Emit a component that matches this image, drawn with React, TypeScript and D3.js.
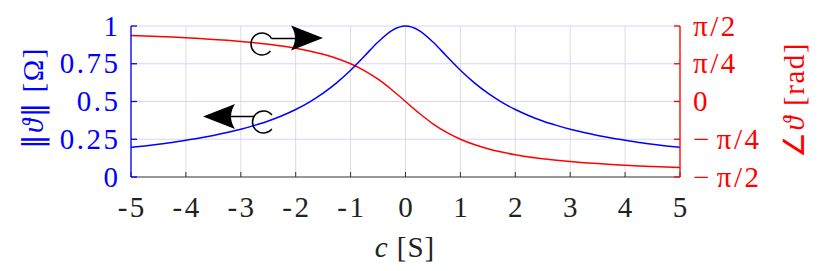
import React, { useRef, useEffect } from "react";
import * as d3 from "d3";

// values (c in S)
const cValues = [
	-5, -4.75, -4.5, -4.25, -4, -3.75, -3.5, -3.25, -3, -2.75, -2.5, -2.25, -2, -1.75, -1.5, -1.25, -1, -0.75, -0.5,
	-0.25, 0, 0.25, 0.5, 0.75, 1, 1.25, 1.5, 1.75, 2, 2.25, 2.5, 2.75, 3, 3.25, 3.5, 3.75, 4, 4.25, 4.5, 4.75, 5,
];
const magnitude = [
	0.196, 0.206, 0.217, 0.229, 0.243, 0.258, 0.275, 0.294, 0.316, 0.342, 0.371, 0.406, 0.447, 0.496, 0.555, 0.625,
	0.707, 0.8, 0.894, 0.97, 1, 0.97, 0.894, 0.8, 0.707, 0.625, 0.555, 0.496, 0.447, 0.406, 0.371, 0.342, 0.316,
	0.294, 0.275, 0.258, 0.243, 0.229, 0.217, 0.206, 0.196,
];
const phase = [
	1.373, 1.363, 1.352, 1.34, 1.326, 1.31, 1.292, 1.272, 1.249, 1.222, 1.19, 1.153, 1.107, 1.052, 0.983, 0.896,
	0.785, 0.644, 0.464, 0.245, 0, -0.245, -0.464, -0.644, -0.785, -0.896, -0.983, -1.052, -1.107, -1.153, -1.19,
	-1.222, -1.249, -1.272, -1.292, -1.31, -1.326, -1.34, -1.352, -1.363, -1.373,
];

const xTicks = [-5, -4, -3, -2, -1, 0, 1, 2, 3, 4, 5];
const xTickLabels = ["-5", "-4", "-3", "-2", "-1", "0", "1", "2", "3", "4", "5"];
const leftTicks = [0, 0.25, 0.5, 0.75, 1];
const leftTickLabels = ["0", "0.25", "0.5", "0.75", "1"];
const rightTicks = [-Math.PI / 2, -Math.PI / 4, 0, Math.PI / 4, Math.PI / 2];
const rightTickLabels = ["\u2212\u200a\u03c0/2", "\u2212\u200a\u03c0/4", "0", "\u03c0/4", "\u03c0/2"];

const FONT = "Liberation Serif";
const FS = 29;
const LS = 2.5;

const drawChart = (svgEl) => {
	const width = 830,
		height = 271,
		left = 131,
		right = 680,
		top = 26,
		bottom = 177;

	const svg = d3.select(svgEl);
	svg.selectAll("*").remove();
	svg.attr("width", width).attr("height", height);

	const x = d3.scaleLinear().domain([-5, 5]).range([left, right]);
	const yL = d3.scaleLinear().domain([0, 1]).range([bottom, top]);
	const yR = d3.scaleLinear().domain([-Math.PI / 2, Math.PI / 2]).range([bottom, top]);

	const label = (sel, ls = LS) =>
		sel.style("font-family", FONT).style("font-size", FS + "px").style("letter-spacing", ls + "px");

	// grid
	svg
		.append("g")
		.selectAll("line")
		.data(xTicks)
		.enter()
		.append("line")
		.attr("x1", (d) => x(d))
		.attr("x2", (d) => x(d))
		.attr("y1", top)
		.attr("y2", bottom)
		.attr("stroke", "#dcdcdc")
		.attr("stroke-width", 1);
	svg
		.append("g")
		.selectAll("line")
		.data(leftTicks.slice(1))
		.enter()
		.append("line")
		.attr("x1", left)
		.attr("x2", right)
		.attr("y1", (d) => yL(d))
		.attr("y2", (d) => yL(d))
		.attr("stroke", "#d4d4ff")
		.attr("stroke-width", 1.2);

	const pts = cValues.map((c, i) => ({ c, m: magnitude[i], p: phase[i] }));

	const magLine = d3
		.line()
		.x((d) => x(d.c))
		.y((d) => yL(d.m))
		.curve(d3.curveMonotoneX);
	const phaseLine = d3
		.line()
		.x((d) => x(d.c))
		.y((d) => yR(d.p))
		.curve(d3.curveMonotoneX);

	svg.append("path").attr("d", phaseLine(pts)).attr("fill", "none").attr("stroke", "#ff0000").attr("stroke-width", 1.5);
	svg.append("path").attr("d", magLine(pts)).attr("fill", "none").attr("stroke", "#0000ff").attr("stroke-width", 1.5);

	// axes
	const xAxis = svg.append("g").attr("transform", `translate(0,${bottom})`);
	xAxis.append("line").attr("x1", left).attr("x2", right).attr("stroke", "#333").attr("stroke-width", 1.2);
	xAxis
		.selectAll("line.tick")
		.data(xTicks)
		.enter()
		.append("line")
		.attr("class", "tick")
		.attr("x1", (d) => x(d))
		.attr("x2", (d) => x(d))
		.attr("y1", 0)
		.attr("y2", -5)
		.attr("stroke", "#333");
	xAxis
		.selectAll("text")
		.data(xTicks)
		.enter()
		.append("text")
		.attr("x", (d) => x(d) + LS / 2)
		.attr("y", 40)
		.attr("text-anchor", "middle")
		.call(label)
		.attr("fill", "#222")
		.text((d, i) => xTickLabels[i]);

	const lAxis = svg.append("g");
	lAxis.append("line").attr("x1", left).attr("x2", left).attr("y1", top).attr("y2", bottom).attr("stroke", "#0000ff").attr("stroke-width", 1.3);
	lAxis
		.selectAll("line.tick")
		.data(leftTicks)
		.enter()
		.append("line")
		.attr("class", "tick")
		.attr("x1", left)
		.attr("x2", left + 6)
		.attr("y1", (d) => yL(d))
		.attr("y2", (d) => yL(d))
		.attr("stroke", "#0000ff")
		.attr("stroke-width", 1.3);
	lAxis
		.selectAll("text")
		.data(leftTicks)
		.enter()
		.append("text")
		.attr("x", left - 13 + LS)
		.attr("y", (d) => yL(d) + 9.5)
		.attr("text-anchor", "end")
		.call(label)
		.attr("fill", "#0000ff")
		.text((d, i) => leftTickLabels[i]);

	const rAxis = svg.append("g");
	rAxis.append("line").attr("x1", right).attr("x2", right).attr("y1", top).attr("y2", bottom).attr("stroke", "#ff0000").attr("stroke-width", 1.3);
	rAxis
		.selectAll("line.tick")
		.data(rightTicks)
		.enter()
		.append("line")
		.attr("class", "tick")
		.attr("x1", right)
		.attr("x2", right - 6)
		.attr("y1", (d) => yR(d))
		.attr("y2", (d) => yR(d))
		.attr("stroke", "#ff0000")
		.attr("stroke-width", 1.3);
	rAxis
		.selectAll("text")
		.data(rightTicks)
		.enter()
		.append("text")
		.attr("x", right + 13)
		.attr("y", (d) => yR(d) + 9.5)
		.attr("text-anchor", "start")
		.call(label)
		.attr("fill", "#ff0000")
		.text((d, i) => rightTickLabels[i]);

	// axis titles
	const xt = svg.append("text").attr("x", 405).attr("y", 257).attr("text-anchor", "middle").call(label, 1).attr("fill", "#222");
	xt.append("tspan").attr("font-style", "italic").text("c");
	xt.append("tspan").text(" [S]");

	const lt = svg
		.append("text")
		.attr("transform", "translate(43,98) rotate(-90)")
		.attr("text-anchor", "middle")
		.call(label, 1.5)
		.attr("fill", "#0000ff");
	lt.append("tspan").style("font-family", "DejaVu Sans").text("\u2016");
	lt.append("tspan").attr("font-style", "italic").text("\u03d1");
	lt.append("tspan").style("font-family", "DejaVu Sans").text("\u2016");
	lt.append("tspan").text(" [\u03a9]");

	const rt = svg
		.append("text")
		.attr("transform", "translate(804,100) rotate(-90)")
		.attr("text-anchor", "middle")
		.call(label, 1.5)
		.attr("fill", "#ff0000");
	rt.append("tspan").text("\u2220");
	rt.append("tspan").attr("font-style", "italic").text("\u03d1");
	rt.append("tspan").text(" [rad]");

	// circle + arrow markers pointing to each curve's axis
	const arrowHead = (tipX, cy, dir) => {
		const len = 32,
			half = 12.5,
			notch = 24;
		const bx = tipX - dir * len;
		return `M${tipX},${cy} L${bx},${cy - half} Q${tipX - dir * notch},${cy} ${bx},${cy + half} Z`;
	};
	const openCircle = (cx, cy, r, a0, a1) => {
		const p0 = [cx + r * Math.cos(a0), cy + r * Math.sin(a0)];
		const p1 = [cx + r * Math.cos(a1), cy + r * Math.sin(a1)];
		return `M${p0[0]},${p0[1]} A${r},${r} 0 1 0 ${p1[0]},${p1[1]}`;
	};
	const g = svg.append("g").attr("stroke", "#000").attr("fill", "none").attr("stroke-width", 1.5);
	const deg = Math.PI / 180;

	// upper: phase → right axis
	g.append("path").attr("d", openCircle(262, 44, 11, -30 * deg, 40 * deg));
	g.append("line").attr("x1", 271.5).attr("y1", 38.5).attr("x2", 305).attr("y2", 38.5);
	g.append("path").attr("d", arrowHead(323, 38, 1)).attr("fill", "#000").attr("stroke", "none");

	// lower: magnitude → left axis
	g.append("path").attr("d", openCircle(263.5, 122, 11, -40 * deg, 40 * deg));
	g.append("line").attr("x1", 255).attr("y1", 116.5).attr("x2", 220).attr("y2", 116.5);
	g.append("path").attr("d", arrowHead(203, 116.5, -1)).attr("fill", "#000").attr("stroke", "none");
};

const App = () => {
	const svg = useRef(null);

	useEffect(() => {
		drawChart(svg.current);
	}, []);

	return (
		<div style={{ position: "absolute", left: 0, top: 0, background: "#fff" }}>
			<svg ref={svg} style={{ display: "block" }} />
		</div>
	);
};

export default App;
